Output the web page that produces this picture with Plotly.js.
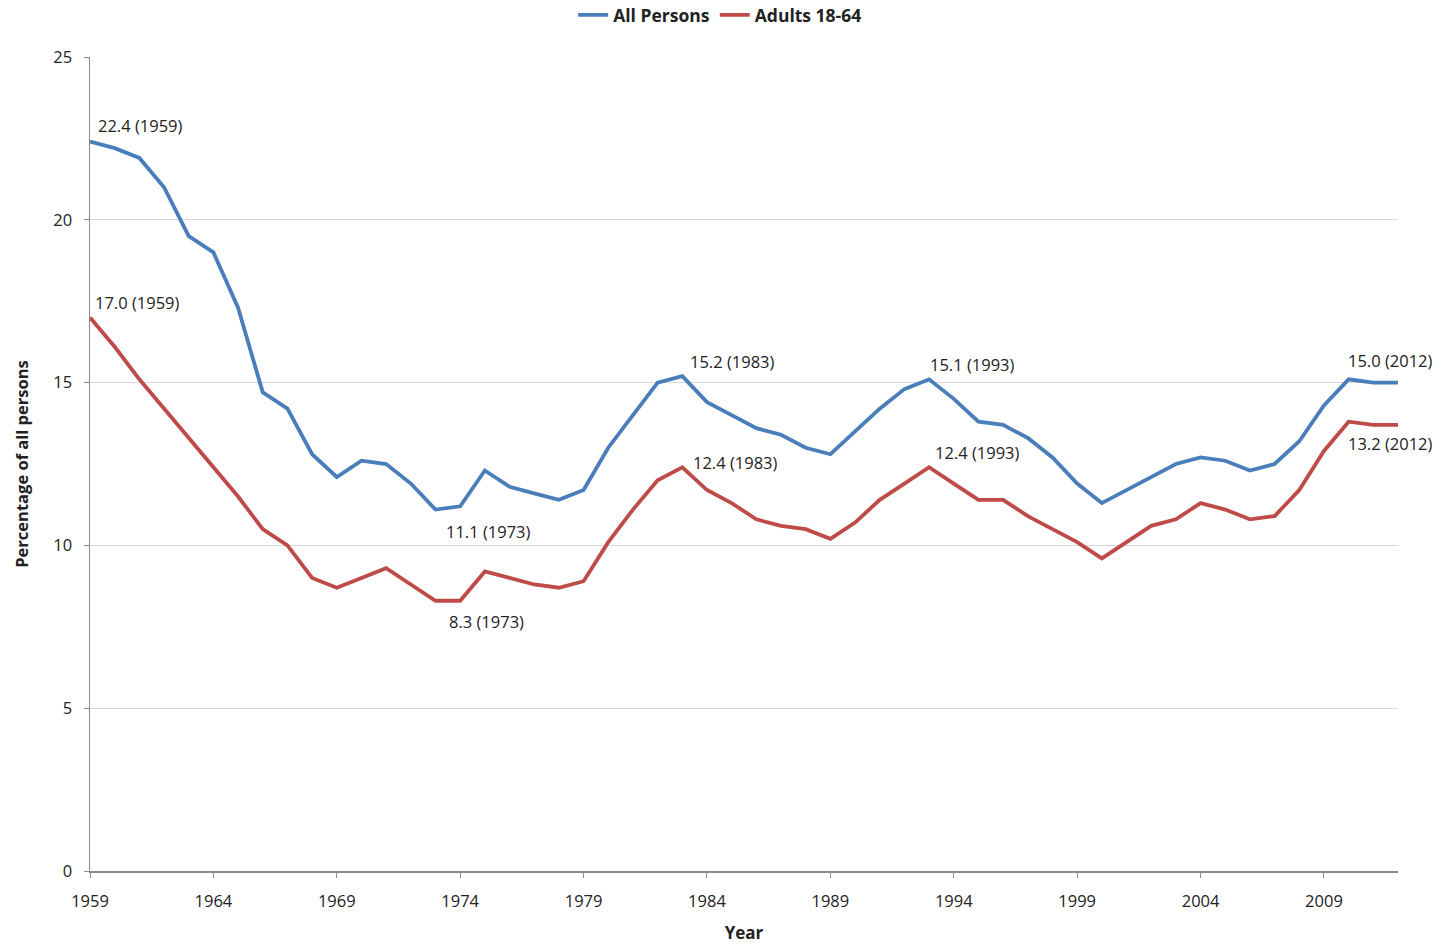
<!DOCTYPE html>
<html>
<head>
<meta charset="utf-8">
<script src="https://cdn.plot.ly/plotly-3.0.1.min.js"></script>
<style>html,body{margin:0;padding:0;background:#fff;}#chart{width:1449px;height:944px;}</style>
</head>
<body>
<div id="chart"></div>
<script>
const years = [];
for (let y = 1959; y <= 2012; y++) years.push(y);

const allPersons = [22.4, 22.2, 21.9, 21.0, 19.5, 19.0, 17.3, 14.7, 14.2, 12.8,
  12.1, 12.6, 12.5, 11.9, 11.1, 11.2, 12.3, 11.8, 11.6, 11.4,
  11.7, 13.0, 14.0, 15.0, 15.2, 14.4, 14.0, 13.6, 13.4, 13.0,
  12.8, 13.5, 14.2, 14.8, 15.1, 14.5, 13.8, 13.7, 13.3, 12.7,
  11.9, 11.3, 11.7, 12.1, 12.5, 12.7, 12.6, 12.3, 12.5, 13.2,
  14.3, 15.1, 15.0, 15.0];

const adults = [17.0, 16.1, 15.1, 14.2, 13.3, 12.4, 11.5, 10.5, 10.0, 9.0,
  8.7, 9.0, 9.3, 8.8, 8.3, 8.3, 9.2, 9.0, 8.8, 8.7,
  8.9, 10.1, 11.1, 12.0, 12.4, 11.7, 11.3, 10.8, 10.6, 10.5,
  10.2, 10.7, 11.4, 11.9, 12.4, 11.9, 11.4, 11.4, 10.9, 10.5,
  10.1, 9.6, 10.1, 10.6, 10.8, 11.3, 11.1, 10.8, 10.9, 11.7,
  12.9, 13.8, 13.7, 13.7];

const tickYears = [1959, 1964, 1969, 1974, 1979, 1984, 1989, 1994, 1999, 2004, 2009];

const labelTexts = ['22.4 (1959)', '17.0 (1959)', '11.1 (1973)', '8.3 (1973)', '15.2 (1983)', '12.4 (1983)', '15.1 (1993)', '12.4 (1993)', '15.0 (2012)', '13.2 (2012)'];
const labelYears = [1959, 1959, 1973, 1973, 1983, 1983, 1993, 1993, 2012, 2012];
const labelValues = [22.4, 17.0, 11.1, 8.3, 15.2, 12.4, 15.1, 12.4, 15.0, 13.7];
const labelShiftX = [6, 3, 8, 11, 6, 9, -1, 4, -52, -52];
const labelShiftY = [16, 15, -22, -21, 15, 5, 15, 15, 22, -19];

const font = '"Open Sans", "Liberation Sans", sans-serif';

const traces = [
  {x: years, y: allPersons, name: 'All Persons', type: 'scatter', mode: 'lines',
   line: {color: '#4A7EBB', width: 3.8}},
  {x: years, y: adults, name: 'Adults 18-64', type: 'scatter', mode: 'lines',
   line: {color: '#BE4B48', width: 3.8}}
];

const annotations = labelTexts.map((t, i) => ({
  x: labelYears[i], y: labelValues[i], xref: 'x', yref: 'y', text: t,
  showarrow: false, xanchor: 'left', yanchor: 'middle',
  xshift: labelShiftX[i], yshift: labelShiftY[i],
  font: {family: font, size: 16.5, color: '#222'}
}));

const layout = {
  width: 1449, height: 944,
  margin: {l: 90, r: 51, t: 57, b: 73},
  paper_bgcolor: '#fff', plot_bgcolor: '#fff',
  font: {family: font, size: 16, color: '#222'},
  showlegend: true,
  legend: {orientation: 'h', xref: 'container', yref: 'container', x: 0.497, xanchor: 'center', y: 1 - 15/944, yanchor: 'middle',
    font: {family: font, size: 17.5, color: '#222', weight: 'bold'}, itemwidth: 30, tracegroupgap: 0},
  xaxis: {
    range: [1959, 2012], tickvals: tickYears, ticktext: tickYears.map(String),
    showgrid: false, zeroline: false, showline: true, linecolor: '#8c8c8c', linewidth: 1.5,
    ticks: 'outside', ticklen: 5, tickcolor: '#8c8c8c',
    tickfont: {family: font, size: 16.5, color: '#222'}, ticklabelstandoff: 10,
    title: {text: '<b>Year</b>', font: {family: font, size: 17, color: '#222'}, standoff: 16}
  },
  yaxis: {
    range: [0, 25], tickvals: [0, 5, 10, 15, 20, 25],
    showgrid: true, gridcolor: '#d9d9d9', gridwidth: 1, zeroline: false,
    showline: true, linecolor: '#8c8c8c', linewidth: 1.5,
    ticks: 'outside', ticklen: 5, tickcolor: '#8c8c8c',
    tickfont: {family: font, size: 16.5, color: '#222'}, ticklabelstandoff: 8,
    title: {text: '<b>Percentage of all persons</b>', font: {family: font, size: 16.5, color: '#222'}, standoff: 20}
  },
  annotations: annotations
};

Plotly.newPlot('chart', traces, layout, {displayModeBar: false, staticPlot: true});
</script>
</body>
</html>
